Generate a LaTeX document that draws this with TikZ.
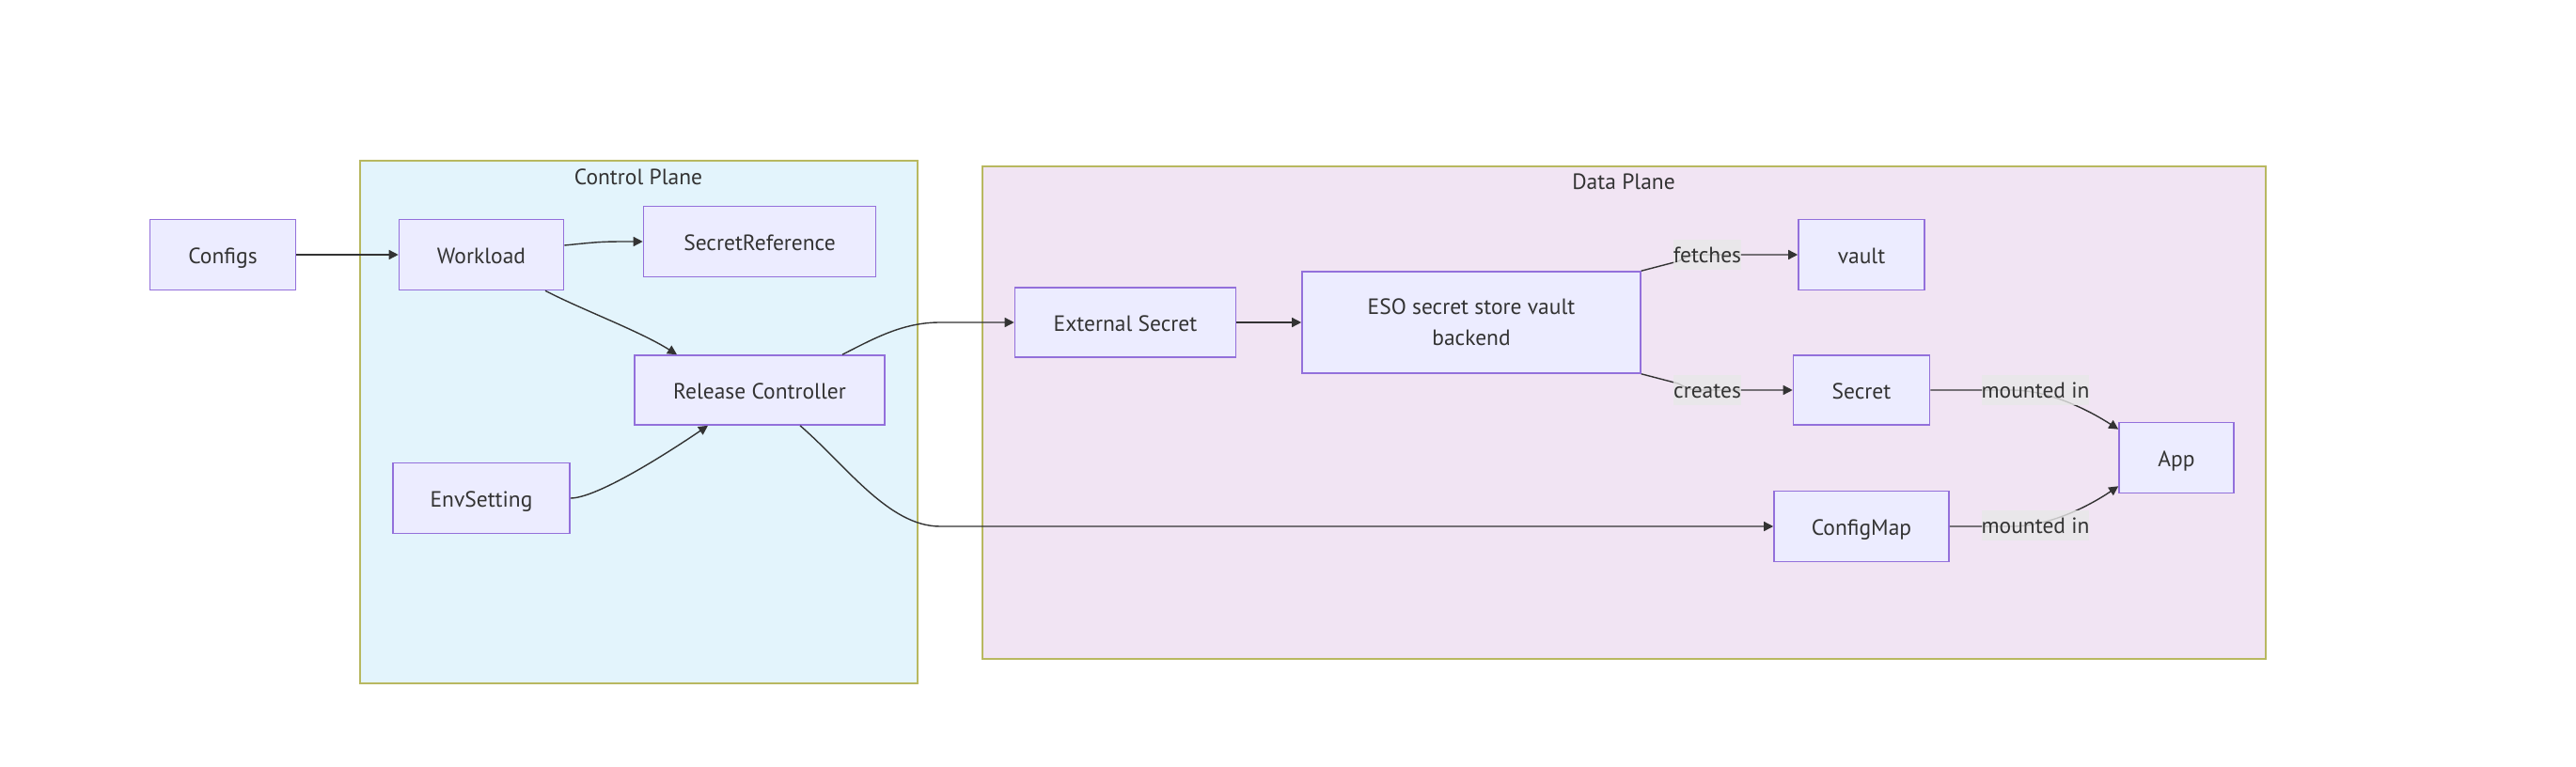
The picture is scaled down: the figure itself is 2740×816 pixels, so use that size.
\documentclass[tikz,border=0pt]{standalone}
\usepackage{fontspec}
\setmainfont{PT Sans}
\usetikzlibrary{arrows.meta,calc}
\definecolor{nodefill}{HTML}{ECECFF}
\definecolor{nodedraw}{HTML}{9370DB}
\definecolor{cpfill}{HTML}{E3F4FC}
\definecolor{dpfill}{HTML}{F1E4F3}
\definecolor{clusterdraw}{HTML}{B8B860}
\definecolor{edgecol}{HTML}{333333}
\definecolor{labelbg}{HTML}{E8E8E8}
\definecolor{txt}{HTML}{333333}
\begin{document}
\begin{tikzpicture}[x=1pt,y=-1pt,
  txtfont/.style={font=\fontsize{23.5}{32.5}\selectfont},
  basebox/.style={draw=nodedraw, fill=nodefill, line width=1.6pt, minimum width=#1,
    minimum height=75pt, inner sep=0pt, text=txt, txtfont},
  box/.style={basebox=#1, text height=22pt, text depth=3pt},
  cluster/.style={draw=clusterdraw, line width=1.5pt, inner sep=0pt},
  ctitle/.style={text=txt, inner sep=0pt, anchor=base, txtfont},
  elabel/.style={fill=labelbg, fill opacity=0.8, text opacity=1, text=txt,
    inner xsep=0pt, inner ysep=0pt, minimum height=32pt, text height=20pt, text depth=4pt, txtfont},
  conn/.style={draw=edgecol, line width=1.4pt, -{Triangle[length=10pt,width=10pt]}}
]
\useasboundingbox (0,0) rectangle (2740,816);
\fill[white] (0,0) rectangle (2740,816);

% clusters
\node[cluster, fill=cpfill, minimum width=593pt, minimum height=556pt] (control) at (679.5,449) {};
\node[ctitle] (cptitle) at (679,196) {Control Plane};
\node[cluster, fill=dpfill, minimum width=1365pt, minimum height=524pt] (data) at (1727.5,439) {};
\node[ctitle] (dptitle) at (1727,201) {Data Plane};

% nodes
\node[box=155pt] (configs) at (237,271) {Configs};
\node[box=175pt] (workload) at (512,271) {Workload};
\node[box=247pt] (secretref) at (808,257) {SecretReference};
\node[box=266pt, minimum height=74pt] (release) at (808,415) {Release Controller};
\node[box=188pt] (envsetting) at (512,530) {EnvSetting};
\node[box=235pt, minimum height=74pt] (extsecret) at (1197,343) {External Secret};
\node[basebox=360pt, minimum height=108pt, align=center] (eso) at (1565,343) {ESO secret store vault\\backend};
\node[box=134pt] (vault) at (1980,271) {vault};
\node[box=145pt, minimum height=74pt] (secret) at (1980,415) {Secret};
\node[box=186pt] (configmap) at (1980,560) {ConfigMap};
\node[box=122pt] (app) at (2315,487) {App};

% connectors
\draw[conn] (configs) -- (workload);
\draw[conn] ($(workload.east)+(0,-10)$) .. controls (640,257) .. (secretref.west);
\draw[conn] ($(workload.south)+(68,0)$) .. controls (620,330) and (680,352) .. ($(release.north)+(-88,0)$);
\draw[conn] (envsetting.east) .. controls (635,530) and (710,482) .. ($(release.south)+(-55,0)$);
\draw[conn] ($(release.north)+(88,0)$) .. controls (930,360) and (960,343) .. (1000,343) -- (extsecret.west);
\draw[conn] ($(release.south)+(43,0)$) .. controls (900,495) and (945,560) .. (1000,560) -- (configmap.west);
\draw[conn] (extsecret) -- (eso);
\draw[conn] (eso.north east) -- (1785,278) .. controls (1798,271) .. (1816,271) -- (vault.west);
\draw[conn] (eso.south east) -- (1785,408) .. controls (1798,415) .. (1816,415) -- (secret.west);
\draw[conn] (secret.east) -- (2140,415) .. controls (2175,415) and (2215,432) .. ($(app.north west)+(0,8)$);
\draw[conn] (configmap.east) -- (2140,560) .. controls (2175,560) and (2215,543) .. ($(app.south west)+(0,-8)$);

% edge labels
\node[elabel] (lfetches) at (1816,271) {fetches};
\node[elabel] (lcreates) at (1816,415) {creates};
\node[elabel] (lmount1) at (2165,415) {mounted in};
\node[elabel] (lmount2) at (2165,559) {mounted in};
\end{tikzpicture}
\end{document}
